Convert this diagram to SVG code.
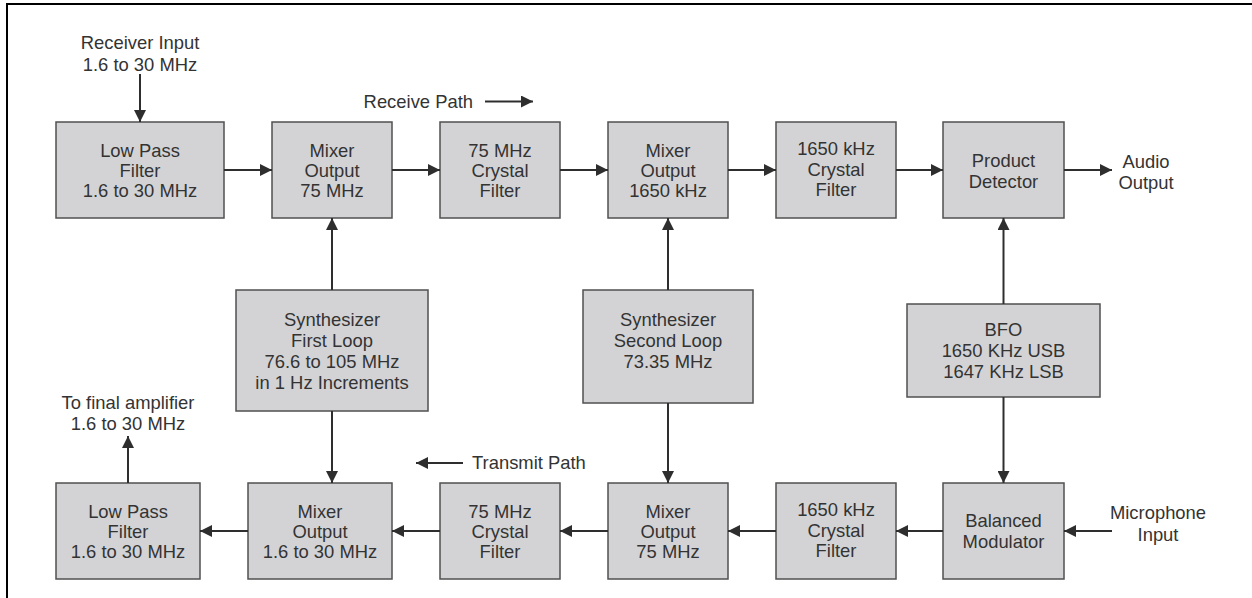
<svg xmlns="http://www.w3.org/2000/svg" width="1252" height="598" viewBox="0 0 1252 598">
<style>
.box{fill:#d3d3d5;stroke:#505050;stroke-width:1.5}
text{font-family:"Liberation Sans",Arial,sans-serif;font-size:18.4px;fill:#333;text-anchor:middle}
.lbl{text-anchor:start}
.end{text-anchor:end}
.c{stroke:#2e2e2e;stroke-width:2;fill:none;marker-end:url(#ah)}
</style>
<defs>
<marker id="ah" viewBox="0 0 12 12" refX="12" refY="6" markerWidth="12" markerHeight="12" markerUnits="userSpaceOnUse" orient="auto">
<path d="M0,0 L12,6 L0,12 Z" fill="#2e2e2e"/>
</marker>
</defs>
<rect width="1252" height="598" fill="#fff"/>
<path d="M7,598 V4 H1252" fill="none" stroke="#000" stroke-width="2"/>

<g id="rx-lpf"><rect class="box" x="56" y="122" width="168" height="96"/>
<text x="140" y="157">Low Pass</text><text x="140" y="177">Filter</text><text x="140" y="197">1.6 to 30 MHz</text></g>
<g id="rx-mix1"><rect class="box" x="272" y="122" width="120" height="96"/>
<text x="332" y="157">Mixer</text><text x="332" y="177">Output</text><text x="332" y="197">75 MHz</text></g>
<g id="rx-xf75"><rect class="box" x="440" y="122" width="120" height="96"/>
<text x="500" y="157">75 MHz</text><text x="500" y="177">Crystal</text><text x="500" y="197">Filter</text></g>
<g id="rx-mix2"><rect class="box" x="608" y="122" width="120" height="96"/>
<text x="668" y="157">Mixer</text><text x="668" y="177">Output</text><text x="668" y="197">1650 kHz</text></g>
<g id="rx-xf1650"><rect class="box" x="776" y="122" width="120" height="96"/>
<text x="836" y="155">1650 kHz</text><text x="836" y="176">Crystal</text><text x="836" y="196">Filter</text></g>
<g id="product-detector"><rect class="box" x="943" y="122" width="121" height="96"/>
<text x="1003.5" y="167">Product</text><text x="1003.5" y="188">Detector</text></g>

<g id="synth1"><rect class="box" x="236" y="290" width="192" height="121"/>
<text x="332" y="326">Synthesizer</text><text x="332" y="347">First Loop</text><text x="332" y="368">76.6 to 105 MHz</text><text x="332" y="389">in 1 Hz Increments</text></g>
<g id="synth2"><rect class="box" x="583" y="290" width="170" height="113"/>
<text x="668" y="326">Synthesizer</text><text x="668" y="347">Second Loop</text><text x="668" y="368">73.35 MHz</text></g>
<g id="bfo"><rect class="box" x="907" y="304" width="193" height="93"/>
<text x="1003.5" y="336">BFO</text><text x="1003.5" y="357">1650 KHz USB</text><text x="1003.5" y="378">1647 KHz LSB</text></g>

<g id="tx-lpf"><rect class="box" x="56" y="483" width="144" height="96"/>
<text x="128" y="518">Low Pass</text><text x="128" y="538">Filter</text><text x="128" y="558">1.6 to 30 MHz</text></g>
<g id="tx-mix1"><rect class="box" x="248" y="483" width="144" height="96"/>
<text x="320" y="518">Mixer</text><text x="320" y="538">Output</text><text x="320" y="558">1.6 to 30 MHz</text></g>
<g id="tx-xf75"><rect class="box" x="440" y="483" width="120" height="96"/>
<text x="500" y="518">75 MHz</text><text x="500" y="538">Crystal</text><text x="500" y="558">Filter</text></g>
<g id="tx-mix2"><rect class="box" x="608" y="483" width="120" height="96"/>
<text x="668" y="518">Mixer</text><text x="668" y="538">Output</text><text x="668" y="558">75 MHz</text></g>
<g id="tx-xf1650"><rect class="box" x="776" y="483" width="120" height="96"/>
<text x="836" y="516">1650 kHz</text><text x="836" y="537">Crystal</text><text x="836" y="557">Filter</text></g>
<g id="balanced-modulator"><rect class="box" x="943" y="483" width="121" height="96"/>
<text x="1003.5" y="527">Balanced</text><text x="1003.5" y="548">Modulator</text></g>

<g id="labels">
<text x="140" y="49">Receiver Input</text><text x="140" y="71">1.6 to 30 MHz</text>
<text class="end" x="473" y="108">Receive Path</text>
<text x="1146" y="168">Audio</text><text x="1146" y="189">Output</text>
<text x="128" y="409">To final amplifier</text><text x="128" y="430">1.6 to 30 MHz</text>
<text class="lbl" x="472" y="469">Transmit Path</text>
<text x="1158" y="519">Microphone</text><text x="1158" y="541">Input</text>
</g>

<g id="connectors">
<path class="c" d="M140,74 V122"/>
<path class="c" d="M224,170 H272"/>
<path class="c" d="M392,170 H440"/>
<path class="c" d="M560,170 H608"/>
<path class="c" d="M728,170 H776"/>
<path class="c" d="M896,170 H943"/>
<path class="c" d="M1064,170 H1112"/>
<path class="c" d="M485,101.5 H533"/>
<path class="c" d="M332,290 V218"/>
<path class="c" d="M332,411 V483"/>
<path class="c" d="M668,290 V218"/>
<path class="c" d="M668,403 V483"/>
<path class="c" d="M1003.5,304 V218"/>
<path class="c" d="M1003.5,397 V483"/>
<path class="c" d="M1112,531 H1064"/>
<path class="c" d="M943,531 H896"/>
<path class="c" d="M776,531 H728"/>
<path class="c" d="M608,531 H560"/>
<path class="c" d="M440,531 H392"/>
<path class="c" d="M248,531 H200"/>
<path class="c" d="M128,483 V436"/>
<path class="c" d="M463,463 H416"/>
</g>
</svg>
